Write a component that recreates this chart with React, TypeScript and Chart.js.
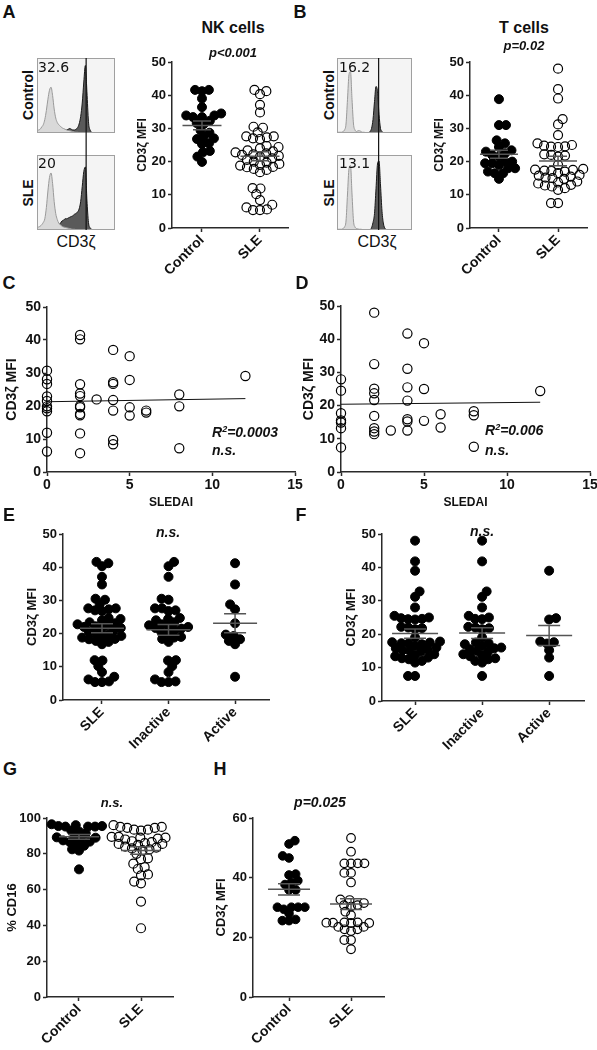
import React, { useEffect, useRef } from "react";
import { Chart, registerables } from "chart.js";
Chart.register(...registerables);

const FONT = "'Liberation Sans', Arial, Helvetica, sans-serif";
Chart.defaults.font.family = FONT;

// ---------------- DATA ----------------
const labels2 = ["Control", "SLE"];
const labels3 = ["SLE", "Inactive", "Active"];

// NK cells CD3ζ MFI
const nkControl = [41.6, 41.2, 41.6, 39.0, 36.4, 34.5, 33.9, 33.4, 33.4, 33.9, 32.3, 31.6, 31.3, 29.4, 28.7, 27.5, 27.0, 26.8, 25.5, 25.3, 23.2, 22.8, 21.5, 19.9];
const nkInactive = [40.3, 41.6, 37.1, 30.5, 30.2, 27.6, 27.0, 26.8, 27.6, 24.7, 24.0, 24.4, 23.4, 22.5, 22.8, 22.0, 21.7, 22.2, 21.0, 21.5, 20.5, 20.0, 18.8, 18.4, 17.5, 19.0, 11.9, 12.0, 10.2, 8.4, 6.2, 5.4, 5.4, 5.6];
const nkActive = [41.2, 34.8, 28.8, 27.3, 23.1, 19.3, 17.8, 16.8, 18.3, 19.7, 7.0];
const nkSLE = [...nkInactive, ...nkActive];

// T cells CD3ζ MFI
const tControl = [38.8, 31.0, 31.0, 26.4, 25.5, 24.4, 23.4, 23.0, 22.0, 22.5, 21.5, 20.0, 19.5, 19.0, 20.0, 19.5, 18.0, 18.0, 16.5, 14.8, 16.5, 17.0];
const tInactive = [48.0, 41.8, 32.8, 31.2, 28.0, 25.5, 25.0, 24.5, 24.6, 22.2, 22.0, 21.8, 21.5, 19.0, 17.5, 17.3, 17.0, 16.0, 15.5, 15.0, 14.8, 15.8, 16.5, 14.0, 13.4, 12.5, 12.0, 11.5, 12.8, 13.7, 7.5];
const tActive = [39.0, 24.8, 24.4, 17.8, 17.2, 17.6, 15.2, 13.0, 7.5];
const tSLE = [...tInactive, ...tActive];

// SLEDAI correlations
const sledaiNK = [0, 0, 0, 0, 0, 0, 0, 0, 0, 0, 2, 2, 2, 2, 2, 2, 2, 2, 2, 2, 2, 3, 4, 4, 4, 4, 4, 4, 4, 5, 5, 5, 5, 6, 6, 8, 8, 8, 12];
const mfiNK = [30.7, 28.1, 26.7, 22.9, 21.5, 19.9, 19.3, 18.4, 11.9, 6.2, 41.5, 40.2, 26.6, 23.8, 23.0, 20.0, 19.6, 17.6, 17.2, 11.7, 5.7, 22.0, 37.0, 27.2, 26.7, 21.8, 18.6, 9.7, 8.4, 35.1, 27.9, 19.6, 17.1, 18.6, 18.0, 23.5, 19.9, 7.2, 29.1];
const sledaiT = [0, 0, 0, 0, 0, 0, 0, 2, 2, 2, 2, 2, 2, 2, 2, 2, 3, 4, 4, 4, 4, 4, 4, 4, 5, 5, 5, 6, 6, 8, 8, 8, 12];
const mfiT = [27.9, 24.5, 17.7, 15.5, 14.9, 13.2, 7.4, 48.0, 32.5, 25.1, 23.7, 21.7, 16.9, 13.2, 12.2, 11.4, 12.5, 41.7, 31.1, 25.5, 21.5, 15.9, 15.2, 12.5, 38.8, 25.0, 15.4, 17.4, 13.4, 18.3, 17.1, 7.6, 24.4];

// % CD16
const cd16Control = [96.5, 95.5, 95.2, 95.2, 95.2, 95.5, 96.0, 93.0, 92.5, 91.5, 89.5, 89.2, 89.0, 88.5, 87.5, 86.8, 86.5, 85.5, 84.5, 82.5, 81.8, 71.3];
const cd16SLE = [96, 95, 94.5, 93.5, 93.0, 93.5, 94.5, 95, 89.5, 89.0, 88.5, 89.0, 89.5, 88.0, 87.0, 86.0, 85.5, 85.0, 85.5, 86.5, 84.0, 83.0, 82.5, 82.0, 83.5, 80.0, 77.5, 77.0, 74.5, 72.5, 71.5, 68.5, 68.0, 64.5, 63.5, 53.3, 38.4];

// CD3ζ MFI (panel H)
const hControl = [52.4, 51.3, 47.3, 46.6, 41.2, 40.9, 39.0, 38.4, 37.7, 35.9, 35.9, 30.1, 30.1, 30.1, 29.4, 30.1, 28.0, 26.0, 25.6, 25.6];
const hSLE = [53.3, 48.7, 44.8, 44.8, 44.8, 44.8, 41.6, 41.6, 38.4, 32.7, 32.5, 31.5, 30.8, 30.8, 30.3, 28.6, 27.4, 25.0, 24.9, 24.9, 25.0, 24.8, 24.8, 23.5, 22.7, 22.1, 22.7, 23.5, 19.1, 19.1, 16.0];

// Flow histograms (percent of box width / height)
const histX = [0, 2, 4, 6, 8, 10, 12, 14, 16, 18, 20, 22, 24, 26, 28, 30, 32, 34, 36, 38, 40, 42, 44, 46, 48, 50, 52, 54, 56, 58, 60, 62, 64, 66, 68, 70, 72, 74, 76, 78, 80, 82, 84, 86, 88, 90, 92, 94, 96, 98, 100];
const nkCtrlIso = [3, 4, 5, 8, 11, 18, 30, 45, 57, 61, 50, 32, 20, 14, 11, 9, 7, 6, 5, 4, 3.5, 3, 2.5, 2, 1.5, 1, 1, 0.5, 0, 0, 0, 0, 0, 0, 0, 0, 0, 0, 0, 0, 0, 0, 0, 0, 0, 0, 0, 0, 0, 0, 0];
const nkCtrlCd3 = [0, 0, 0, 0, 0, 0, 0, 0, 0, 0, 0, 0, 0, 0, 0, 0, 1, 2, 3, 4, 5, 6, 5, 4, 4, 5, 7, 12, 22, 40, 68, 90, 55, 15, 4, 1, 0, 0, 0, 0, 0, 0, 0, 0, 0, 0, 0, 0, 0, 0, 0];
const nkSleIso = [3, 4, 5, 7, 10, 15, 30, 52, 70, 76, 62, 38, 22, 14, 9, 7, 5, 4, 3.5, 3, 2.5, 2, 1.5, 1, 1, 0.5, 0, 0, 0, 0, 0, 0, 0, 0, 0, 0, 0, 0, 0, 0, 0, 0, 0, 0, 0, 0, 0, 0, 0, 0, 0];
const nkSleCd3 = [0, 0, 0, 0, 0, 0, 0, 0, 0, 0, 0, 1, 3, 5, 7, 9, 12, 13, 15, 15, 16, 17, 18, 19, 21, 22, 24, 28, 38, 58, 78, 84, 40, 10, 3, 1, 0, 0, 0, 0, 0, 0, 0, 0, 0, 0, 0, 0, 0, 0, 0];
const tCtrlIso = [1, 1, 1, 1, 2, 4, 12, 45, 78, 82, 45, 12, 4, 2, 3, 3, 2, 1, 1, 0.5, 0, 0, 0, 0, 0, 0, 0, 0, 0, 0, 0, 0, 0, 0, 0, 0, 0, 0, 0, 0, 0, 0, 0, 0, 0, 0, 0, 0, 0, 0, 0];
const tCtrlCd3 = [0, 0, 0, 0, 0, 0, 0, 0, 0, 0, 0, 0, 0, 0, 0, 0, 0, 0, 0, 0, 0, 0, 2, 6, 18, 42, 62, 55, 25, 6, 2, 0.5, 0, 0, 0, 0, 0, 0, 0, 0, 0, 0, 0, 0, 0, 0, 0, 0, 0, 0, 0];
const tSleIso = [1, 1, 1, 1, 2, 4, 12, 48, 82, 86, 48, 12, 4, 2, 1.5, 1, 1, 0.5, 0, 0, 0, 0, 0, 0, 0, 0, 0, 0, 0, 0, 0, 0, 0, 0, 0, 0, 0, 0, 0, 0, 0, 0, 0, 0, 0, 0, 0, 0, 0, 0, 0];
const tSleCd3 = [0, 0, 0, 0, 0, 0, 0, 0, 0, 0, 0, 0, 0, 0, 0, 0, 0, 0, 0, 0, 0, 0, 0, 3, 10, 22, 55, 88, 92, 60, 25, 8, 2, 0.5, 0, 0, 0, 0, 0, 0, 0, 0, 0, 0, 0, 0, 0, 0, 0, 0, 0];
const nkMarker = 63;
const tMarker = 55.5;

// ---------------- HELPERS ----------------
const AXIS = "#2a2a2a";
const PAD_TOP = 12;
const PAD_RIGHT = 10;

type Rect = { left: number; top: number; width: number; height: number };

function ChartCanvas({ rect, build }: { rect: Rect; build: (c: HTMLCanvasElement) => Chart }) {
  const ref = useRef<HTMLCanvasElement>(null);
  useEffect(() => {
    const chart = build(ref.current as HTMLCanvasElement);
    return () => chart.destroy();
  }, []);
  return (
    <canvas
      ref={ref}
      width={rect.width}
      height={rect.height}
      style={{ position: "absolute", left: rect.left, top: rect.top, width: rect.width, height: rect.height }}
    />
  );
}

function beeswarm(ys: number[], d: number): number[] {
  const order = ys.map((_, i) => i).sort((a, b) => ys[b] - ys[a]);
  const placed: { x: number; y: number }[] = [];
  const out = new Array(ys.length).fill(0);
  let flip = 1;
  for (const i of order) {
    const y = ys[i];
    const cands = [0];
    for (const p of placed) {
      const dy = Math.abs(p.y - y);
      if (dy < d) {
        const dx = Math.sqrt(d * d - dy * dy);
        cands.push(p.x + dx, p.x - dx);
      }
    }
    cands.sort((a, b) => Math.abs(a) - Math.abs(b) || (a - b) * flip);
    for (const c of cands) {
      if (placed.every((p) => (p.x - c) ** 2 + (p.y - y) ** 2 >= d * d - 0.01)) {
        out[i] = c;
        placed.push({ x: c, y });
        if (c !== 0) flip = -flip;
        break;
      }
    }
  }
  return out;
}

function tickFont(size: number) {
  return { family: FONT, size, weight: "bold" as const };
}

interface DotSpec {
  axisLeft: number; axisRight: number; axisTop: number; axisBottom: number;
  titleX: number; titleSize: number; yTitle: string;
  groups: { values: number[]; filled: boolean }[];
  labels: string[];
  xMin: number; xMax: number; yMax: number; yStep: number;
  r: number; meanHalf: number; semHalf: number;
  tickSize: number; xH: number;
}

function dotRect(s: DotSpec) {
  const lh = s.titleSize * 1.2;
  const yW = Math.round(s.axisLeft - s.titleX + lh / 2);
  const left = s.axisLeft - yW;
  return {
    rect: { left, top: s.axisTop - PAD_TOP, width: s.axisRight + PAD_RIGHT - left, height: s.axisBottom - s.axisTop + PAD_TOP + s.xH },
    yW,
  };
}

function yAxisOpts(yMax: number, yStep: number, title: string, titleSize: number, tickSize: number, yW: number) {
  return {
    type: "linear",
    min: 0,
    max: yMax,
    ticks: { stepSize: yStep, font: tickFont(tickSize), color: "#111", padding: 2 },
    grid: { drawOnChartArea: false, drawTicks: true, tickLength: 4, tickColor: AXIS, tickWidth: 1.5 },
    border: { display: true, color: AXIS, width: 1.5 },
    title: { display: true, text: title, font: tickFont(titleSize), color: "#111", padding: 0 },
    afterFit: (sc: any) => {
      sc.width = yW;
      sc.paddingTop = 0;
      sc.paddingBottom = 0;
    },
  };
}

function buildDot(s: DotSpec, yW: number) {
  return (canvas: HTMLCanvasElement) => {
    const meanSem = {
      id: "meanSem",
      afterDatasetsDraw(chart: any) {
        const { ctx } = chart;
        const xs = chart.scales.x, ys = chart.scales.y;
        ctx.save();
        ctx.strokeStyle = "#555";
        ctx.lineWidth = 1.5;
        s.groups.forEach((g, gi) => {
          const n = g.values.length;
          const mean = g.values.reduce((a, b) => a + b, 0) / n;
          const sd = Math.sqrt(g.values.reduce((a, b) => a + (b - mean) ** 2, 0) / (n - 1));
          const sem = sd / Math.sqrt(n);
          const cx = xs.getPixelForValue(gi + 1);
          const ym = ys.getPixelForValue(mean);
          const yt = ys.getPixelForValue(mean + sem);
          const yb = ys.getPixelForValue(mean - sem);
          ctx.beginPath();
          ctx.moveTo(cx - s.meanHalf, ym); ctx.lineTo(cx + s.meanHalf, ym);
          ctx.moveTo(cx, yt); ctx.lineTo(cx, yb);
          ctx.moveTo(cx - s.semHalf, yt); ctx.lineTo(cx + s.semHalf, yt);
          ctx.moveTo(cx - s.semHalf, yb); ctx.lineTo(cx + s.semHalf, yb);
          ctx.stroke();
        });
        ctx.restore();
      },
    };
    const chart = new Chart(canvas, {
      type: "scatter",
      data: {
        datasets: s.groups.map((g, gi) => ({
          data: g.values.map((v) => ({ x: gi + 1, y: v })),
          pointRadius: s.r,
          pointHoverRadius: s.r,
          pointBackgroundColor: g.filled ? "#000" : "rgba(255,255,255,0)",
          pointBorderColor: "#000",
          pointBorderWidth: g.filled ? 1 : 1.2,
          clip: false,
        })),
      },
      options: {
        responsive: false,
        animation: false,
        devicePixelRatio: 1,
        events: [],
        layout: { padding: { top: PAD_TOP, right: PAD_RIGHT, left: 0, bottom: 0 } },
        plugins: { legend: { display: false }, tooltip: { enabled: false } },
        scales: {
          x: {
            type: "linear",
            min: s.xMin,
            max: s.xMax,
            afterBuildTicks: (sc: any) => {
              sc.ticks = s.labels.map((_, i) => ({ value: i + 1 }));
            },
            ticks: {
              autoSkip: false,
              minRotation: 45,
              maxRotation: 45,
              font: tickFont(14),
              color: "#111",
              padding: 0,
              callback: (v: any) => s.labels[Math.round(Number(v)) - 1] ?? "",
            },
            grid: { drawOnChartArea: false, drawTicks: true, tickLength: 4, tickColor: AXIS, tickWidth: 1.5 },
            border: { display: true, color: AXIS, width: 1.5 },
            afterFit: (sc: any) => {
              sc.height = s.xH;
              sc.paddingLeft = 0;
              sc.paddingRight = 0;
            },
          },
          y: yAxisOpts(s.yMax, s.yStep, s.yTitle, s.titleSize, s.tickSize, yW),
        },
      } as any,
      plugins: [meanSem],
    } as any);
    const xs: any = chart.scales.x;
    const ys: any = chart.scales.y;
    const d = 2 * s.r * 0.78;
    s.groups.forEach((g, gi) => {
      const cx = xs.getPixelForValue(gi + 1);
      const off = beeswarm(g.values.map((v) => ys.getPixelForValue(v)), d);
      (chart.data.datasets[gi] as any).data = g.values.map((v, k) => ({ x: xs.getValueForPixel(cx + off[k]), y: v }));
    });
    chart.update();
    return chart;
  };
}

interface CorrSpec {
  axisLeft: number; axisRight: number; axisTop: number; axisBottom: number;
  titleX: number; titleSize: number; xTitleY: number;
  xs: number[]; ys: number[];
}

function corrRect(s: CorrSpec) {
  const lh = s.titleSize * 1.2;
  const yW = Math.round(s.axisLeft - s.titleX + lh / 2);
  const xH = Math.round(s.xTitleY - s.axisBottom + (12 * 1.2) / 2);
  const left = s.axisLeft - yW;
  return {
    rect: { left, top: s.axisTop - PAD_TOP, width: s.axisRight + PAD_RIGHT - left, height: s.axisBottom - s.axisTop + PAD_TOP + xH },
    yW,
    xH,
  };
}

function buildCorr(s: CorrSpec, yW: number, xH: number) {
  return (canvas: HTMLCanvasElement) => {
    const n = s.xs.length;
    const mx = s.xs.reduce((a, b) => a + b, 0) / n;
    const my = s.ys.reduce((a, b) => a + b, 0) / n;
    let sxy = 0, sxx = 0;
    for (let i = 0; i < n; i++) {
      sxy += (s.xs[i] - mx) * (s.ys[i] - my);
      sxx += (s.xs[i] - mx) ** 2;
    }
    const b = sxy / sxx;
    const a = my - b * mx;
    const x0 = Math.min(...s.xs), x1 = Math.max(...s.xs);
    return new Chart(canvas, {
      type: "scatter",
      data: {
        datasets: [
          {
            data: s.xs.map((x, i) => ({ x, y: s.ys[i] })),
            pointRadius: 4.6,
            pointBackgroundColor: "rgba(255,255,255,0)",
            pointBorderColor: "#000",
            pointBorderWidth: 1.2,
            clip: false,
          },
          {
            type: "line",
            data: [{ x: x0, y: a + b * x0 }, { x: x1, y: a + b * x1 }],
            borderColor: "#111",
            borderWidth: 1,
            pointRadius: 0,
          },
        ],
      },
      options: {
        responsive: false,
        animation: false,
        devicePixelRatio: 1,
        events: [],
        layout: { padding: { top: PAD_TOP, right: PAD_RIGHT, left: 0, bottom: 0 } },
        plugins: { legend: { display: false }, tooltip: { enabled: false } },
        scales: {
          x: {
            type: "linear",
            min: 0,
            max: 15,
            ticks: { stepSize: 5, font: tickFont(14), color: "#111", padding: 1, maxRotation: 0 },
            grid: { drawOnChartArea: false, drawTicks: true, tickLength: 4, tickColor: AXIS, tickWidth: 1.5 },
            border: { display: true, color: AXIS, width: 1.5 },
            title: { display: true, text: "SLEDAI", font: tickFont(12), color: "#111", padding: 0 },
            afterFit: (sc: any) => {
              sc.height = xH;
              sc.paddingLeft = 0;
              sc.paddingRight = 0;
            },
          },
          y: yAxisOpts(50, 10, "CD3ζ MFI", s.titleSize, 14, yW),
        },
      } as any,
    } as any);
  };
}

function buildHist(iso: number[], cd3: number[], marker: number, extend: number) {
  return (canvas: HTMLCanvasElement) => {
    const deco = {
      id: "deco",
      beforeDatasetsDraw(chart: any) {
        const { ctx, chartArea: ca } = chart;
        ctx.save();
        ctx.fillStyle = "#f4f4f4";
        ctx.fillRect(ca.left, ca.top, ca.right - ca.left, ca.bottom - ca.top);
        ctx.restore();
      },
      afterDatasetsDraw(chart: any) {
        const { ctx, chartArea: ca } = chart;
        ctx.save();
        ctx.strokeStyle = "#a0a0a0";
        ctx.lineWidth = 1;
        ctx.strokeRect(ca.left + 0.5, ca.top + 0.5, ca.right - ca.left - 1, ca.bottom - ca.top - 1);
        const x = chart.scales.x.getPixelForValue(marker);
        ctx.strokeStyle = "#111";
        ctx.lineWidth = 1.2;
        ctx.beginPath();
        ctx.moveTo(x, ca.top);
        ctx.lineTo(x, extend > 0 ? chart.height : ca.bottom);
        ctx.stroke();
        ctx.restore();
      },
    };
    const mk = (vals: number[], bg: string, border: string) => ({
      data: histX.map((x, i) => ({ x, y: vals[i] })),
      fill: "origin",
      backgroundColor: bg,
      borderColor: border,
      borderWidth: 1,
      pointRadius: 0,
      cubicInterpolationMode: "monotone",
    });
    return new Chart(canvas, {
      type: "line",
      data: { datasets: [mk(iso, "#d9d9d9", "#9a9a9a"), mk(cd3, "#5a5a5a", "#1a1a1a")] },
      options: {
        responsive: false,
        animation: false,
        devicePixelRatio: 1,
        events: [],
        layout: { padding: { top: 0, left: 0, right: 0, bottom: extend } },
        plugins: { legend: { display: false }, tooltip: { enabled: false } },
        scales: {
          x: { type: "linear", min: 0, max: 100, display: false },
          y: { min: 0, max: 100, display: false },
        },
      } as any,
      plugins: [deco],
    } as any);
  };
}

function Txt(props: {
  x: number; y: number; children: React.ReactNode; size?: number; bold?: boolean; italic?: boolean;
  rot?: number; anchor?: "center" | "left"; family?: string;
}) {
  const { x, y, children, size = 13, bold = true, italic = false, rot = 0, anchor = "center", family = FONT } = props;
  const tx = anchor === "center" ? "-50%" : "0";
  return (
    <div
      style={{
        position: "absolute",
        left: x,
        top: y,
        transform: `translate(${tx}, -50%) rotate(${rot}deg)`,
        transformOrigin: anchor === "center" ? "50% 50%" : "0 50%",
        fontFamily: family,
        fontSize: size,
        fontWeight: bold ? 700 : 400,
        fontStyle: italic ? "italic" : "normal",
        whiteSpace: "nowrap",
        lineHeight: 1,
        color: "#111",
      }}
    >
      {children}
    </div>
  );
}

// ---------------- PANELS ----------------
const panelA: DotSpec = {
  axisLeft: 172, axisRight: 288, axisTop: 62, axisBottom: 228, titleX: 142, titleSize: 12, yTitle: "CD3ζ MFI",
  groups: [{ values: nkControl, filled: true }, { values: nkSLE, filled: false }], labels: labels2,
  xMin: 0.483, xMax: 2.483, yMax: 50, yStep: 10, r: 4.5, meanHalf: 19.5, semHalf: 9, tickSize: 13, xH: 55,
};
const panelB: DotSpec = {
  axisLeft: 470, axisRight: 587, axisTop: 62, axisBottom: 228, titleX: 439, titleSize: 12, yTitle: "CD3ζ MFI",
  groups: [{ values: tControl, filled: true }, { values: tSLE, filled: false }], labels: labels2,
  xMin: 0.51, xMax: 2.49, yMax: 50, yStep: 10, r: 4.5, meanHalf: 19, semHalf: 9, tickSize: 13, xH: 55,
};
const panelE: DotSpec = {
  axisLeft: 63, axisRight: 269, axisTop: 534, axisBottom: 700, titleX: 33, titleSize: 13, yTitle: "CD3ζ MFI",
  groups: [{ values: nkSLE, filled: true }, { values: nkInactive, filled: true }, { values: nkActive, filled: true }], labels: labels3,
  xMin: 0.414, xMax: 3.51, yMax: 50, yStep: 10, r: 4.5, meanHalf: 22, semHalf: 11, tickSize: 13, xH: 58,
};
const panelF: DotSpec = {
  axisLeft: 382, axisRight: 584, axisTop: 534, axisBottom: 701, titleX: 352, titleSize: 13, yTitle: "CD3ζ MFI",
  groups: [{ values: tSLE, filled: true }, { values: tInactive, filled: true }, { values: tActive, filled: true }], labels: labels3,
  xMin: 0.507, xMax: 3.52, yMax: 50, yStep: 10, r: 4.5, meanHalf: 23, semHalf: 11, tickSize: 13, xH: 58,
};
const panelG: DotSpec = {
  axisLeft: 47, axisRight: 173, axisTop: 818, axisBottom: 997, titleX: 13, titleSize: 13, yTitle: "% CD16",
  groups: [{ values: cd16Control, filled: true }, { values: cd16SLE, filled: false }], labels: labels2,
  xMin: 0.484, xMax: 2.516, yMax: 100, yStep: 20, r: 4.5, meanHalf: 20, semHalf: 11, tickSize: 13, xH: 52,
};
const panelH: DotSpec = {
  axisLeft: 253, axisRight: 384, axisTop: 818, axisBottom: 997, titleX: 222, titleSize: 13, yTitle: "CD3ζ MFI",
  groups: [{ values: hControl, filled: true }, { values: hSLE, filled: false }], labels: labels2,
  xMin: 0.419, xMax: 2.532, yMax: 60, yStep: 20, r: 4.3, meanHalf: 21, semHalf: 11, tickSize: 13, xH: 52,
};
const panelC: CorrSpec = { axisLeft: 47, axisRight: 295, axisTop: 307, axisBottom: 472, titleX: 12, titleSize: 14, xTitleY: 503, xs: sledaiNK, ys: mfiNK };
const panelD: CorrSpec = { axisLeft: 341, axisRight: 590, axisTop: 306, axisBottom: 472, titleX: 309, titleSize: 14, xTitleY: 503, xs: sledaiT, ys: mfiT };

function DotPanel({ spec }: { spec: DotSpec }) {
  const { rect, yW } = dotRect(spec);
  return <ChartCanvas rect={rect} build={buildDot(spec, yW)} />;
}
function CorrPanel({ spec }: { spec: CorrSpec }) {
  const { rect, yW, xH } = corrRect(spec);
  return <ChartCanvas rect={rect} build={buildCorr(spec, yW, xH)} />;
}

export default function App() {
  return (
    <div style={{ position: "absolute", left: 0, top: 0, width: 597, height: 1050, background: "#fff", overflow: "hidden" }}>
      {/* histograms */}
      <ChartCanvas rect={{ left: 37, top: 58, width: 78, height: 97 }} build={buildHist(nkCtrlIso, nkCtrlCd3, nkMarker, 22)} />
      <ChartCanvas rect={{ left: 37, top: 155, width: 78, height: 75 }} build={buildHist(nkSleIso, nkSleCd3, nkMarker, 0)} />
      <ChartCanvas rect={{ left: 337, top: 58, width: 75, height: 97 }} build={buildHist(tCtrlIso, tCtrlCd3, tMarker, 22)} />
      <ChartCanvas rect={{ left: 337, top: 155, width: 75, height: 75 }} build={buildHist(tSleIso, tSleCd3, tMarker, 0)} />

      <DotPanel spec={panelA} />
      <DotPanel spec={panelB} />
      <CorrPanel spec={panelC} />
      <CorrPanel spec={panelD} />
      <DotPanel spec={panelE} />
      <DotPanel spec={panelF} />
      <DotPanel spec={panelG} />
      <DotPanel spec={panelH} />

      {/* panel letters */}
      <Txt x={9} y={12} size={18}>A</Txt>
      <Txt x={300} y={12} size={18}>B</Txt>
      <Txt x={9} y={283} size={18}>C</Txt>
      <Txt x={302} y={283} size={18}>D</Txt>
      <Txt x={9} y={515} size={18}>E</Txt>
      <Txt x={301} y={515} size={18}>F</Txt>
      <Txt x={10} y={769} size={18}>G</Txt>
      <Txt x={220} y={769} size={18}>H</Txt>

      {/* titles */}
      <Txt x={233} y={28} size={16}>NK cells</Txt>
      <Txt x={233} y={52} size={13} italic>p&lt;0.001</Txt>
      <Txt x={524} y={28} size={16}>T cells</Txt>
      <Txt x={524} y={45} size={13} italic>p=0.02</Txt>

      {/* histogram labels */}
      <Txt x={28} y={95} size={14} rot={-90}>Control</Txt>
      <Txt x={28} y={193} size={14} rot={-90}>SLE</Txt>
      <Txt x={329} y={95} size={14} rot={-90}>Control</Txt>
      <Txt x={329} y={193} size={14} rot={-90}>SLE</Txt>
      <Txt x={76} y={242} size={16} bold={false}>CD3ζ</Txt>
      <Txt x={377} y={242} size={16} bold={false}>CD3ζ</Txt>
      <Txt x={38} y={67} size={14} bold={false} anchor="left" family="'DejaVu Sans', sans-serif">32.6</Txt>
      <Txt x={38} y={163} size={14} bold={false} anchor="left" family="'DejaVu Sans', sans-serif">20</Txt>
      <Txt x={339} y={67} size={14} bold={false} anchor="left" family="'DejaVu Sans', sans-serif">16.2</Txt>
      <Txt x={339} y={163} size={14} bold={false} anchor="left" family="'DejaVu Sans', sans-serif">13.1</Txt>

      {/* correlation annotations */}
      <Txt x={212} y={432} size={14} italic anchor="left">R<sup style={{ fontSize: 9 }}>2</sup>=0.0003</Txt>
      <Txt x={212} y={450} size={14} italic anchor="left">n.s.</Txt>
      <Txt x={485} y={430} size={14} italic anchor="left">R<sup style={{ fontSize: 9 }}>2</sup>=0.006</Txt>
      <Txt x={485} y={450} size={14} italic anchor="left">n.s.</Txt>

      {/* significance */}
      <Txt x={168} y={532} size={14} italic>n.s.</Txt>
      <Txt x={482} y={531} size={14} italic>n.s.</Txt>
      <Txt x={112} y={802} size={13} italic>n.s.</Txt>
      <Txt x={320} y={802} size={14} italic>p=0.025</Txt>
    </div>
  );
}
